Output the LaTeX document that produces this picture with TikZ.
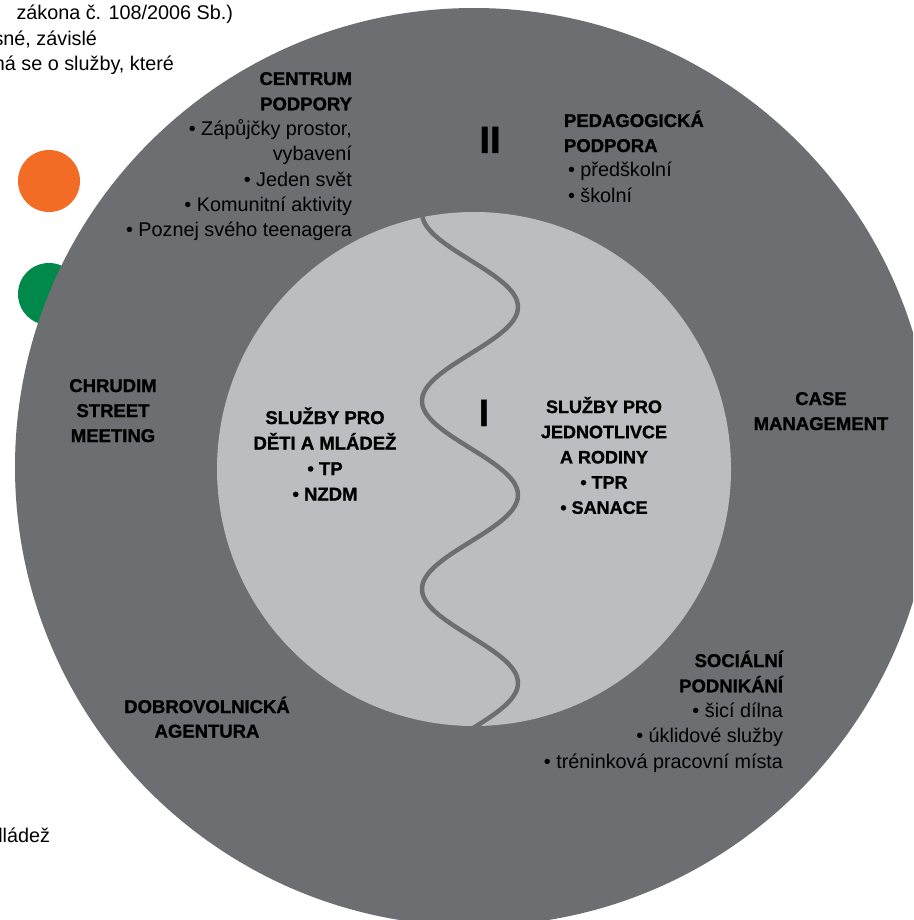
\documentclass[tikz,border=0pt]{standalone}
\usepackage{fontspec}
\setmainfont{Liberation Sans}[BoldFeatures={FakeBold=1.2}]
\definecolor{ringgray}{HTML}{6D6E71}
\definecolor{coregray}{HTML}{BCBDC0}
\definecolor{dotorange}{HTML}{F36C25}
\definecolor{dotgreen}{HTML}{00894A}
\newcommand\topst{\rule{0pt}{20pt}}
\newcommand\hdf{\fontsize{18.5}{25.3}\selectfont\bfseries}
\newcommand\bdf{\fontsize{19.8}{25.3}\selectfont}
\tikzset{
  blk/.style={inner sep=0pt, outer sep=0pt, text=black},
  body/.style={blk, font=\bdf},
  head/.style={blk, font=\hdf},
  roman/.style={blk, font=\fontsize{38}{40}\selectfont\bfseries},
  wave/.style={draw=ringgray, line width=4.5pt},
}
\begin{document}
\begin{tikzpicture}[x=1pt,y=-1pt]
\path[use as bounding box, clip] (0,0) rectangle (913,920);
\fill[white] (0,0) rectangle (913,920);
% side dots
\fill[dotorange] (49,181) circle[radius=31pt];
\fill[dotgreen] (49,294) circle[radius=31pt];
% rings
\fill[ringgray] (474,467) circle[radius=459pt];
\fill[coregray] (474,469) circle[radius=257pt];
\begin{scope}
  \clip (474,469) circle[radius=257pt];
  \draw[wave] plot[domain=200:745, samples=220, variable=\t] ({470-48*cos(1.91489*(\t-213))}, {\t});
\end{scope}
% partial text at top left (cut by the left edge, as in the reference)
\node[body, anchor=base east] (t1) at (233,20) {zákona č. 108/2006 Sb.)};
\node[body, anchor=base east] (t2) at (97,45.5) {sné, závislé};
\node[body, anchor=base east] (t3) at (174,71) {ná se o služby, které};
\node[body, anchor=base east] (t4) at (50,842) {lládež};
% outer ring labels
\node[body, anchor=north east, align=right] (centrum) at (352,65)
  {\topst{\hdf CENTRUM}\\{\hdf PODPORY}\\• Zápůjčky prostor,\\vybavení\\• Jeden svět\\• Komunitní aktivity\\• Poznej svého teenagera};
\node[roman, anchor=base] (two) at (490,153) {II};
\node[body, anchor=north west, align=left, font=\fontsize{19.8}{25}\selectfont] (pedag) at (564,107)
  {\topst{\hdf PEDAGOGICKÁ}\\{\hdf PODPORA}\\\hspace*{4pt}• předškolní\\\hspace*{4pt}• školní};
\node[head, anchor=north, align=center, font=\fontsize{18.5}{25}\selectfont\bfseries] (chrudim) at (113,372)
  {\topst CHRUDIM\\STREET\\MEETING};
\node[head, anchor=north, align=center, font=\fontsize{18.5}{24.5}\selectfont\bfseries] (dobro) at (207,693)
  {\topst DOBROVOLNICKÁ\\AGENTURA};
\node[head, anchor=north, align=center, font=\fontsize{18.5}{25}\selectfont\bfseries] (casem) at (821,385)
  {\topst CASE\\MANAGEMENT};
\node[body, anchor=north east, align=right] (social) at (783,647)
  {\topst{\hdf SOCIÁLNÍ}\\{\hdf PODNIKÁNÍ}\\• šicí dílna\\• úklidové služby\\• tréninková pracovní místa};
% inner core labels
\node[roman, anchor=base] (one) at (484,426) {I};
\node[head, anchor=north, align=center, font=\fontsize{18.5}{25.5}\selectfont\bfseries] (kids) at (325,404)
  {\topst SLUŽBY PRO\\DĚTI A MLÁDEŽ\\• TP\\• NZDM};
\node[head, anchor=north, align=center, font=\fontsize{18}{25.2}\selectfont\bfseries] (family) at (604,393)
  {\topst SLUŽBY PRO\\JEDNOTLIVCE\\A RODINY\\• TPR\\• SANACE};
\end{tikzpicture}
\end{document}
